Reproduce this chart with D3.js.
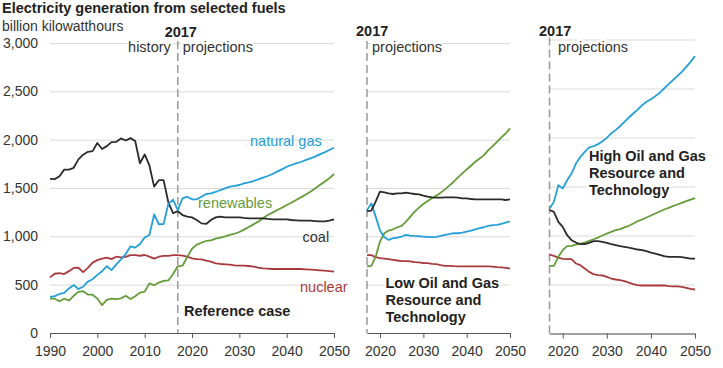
<!DOCTYPE html>
<html><head><meta charset="utf-8">
<script src="https://cdn.jsdelivr.net/npm/d3@7/dist/d3.min.js"></script>
<style>
body{margin:0;background:#fff}
svg text{font-family:Arial,"Liberation Sans",sans-serif}
</style>
</head><body>
<svg id="chart" width="723" height="368"></svg>
<script>
// ---------- DATA ----------
const histYears = d3.range(1990, 2018);   // 1990..2017
const projYears = d3.range(2017, 2051);   // 2017..2050

const coalHist = [1594,1592,1621,1690,1691,1709,1796,1845,1874,1881,1966,1904,1933,1974,1978,2013,1991,2016,1986,1756,1847,1733,1514,1581,1582,1352,1239,1260];
const gasHist  = [373,382,404,415,461,496,455,479,532,556,601,639,691,650,710,761,816,897,883,921,988,1014,1226,1125,1127,1335,1380,1272];
const nucHist  = [577,613,619,610,640,673,675,629,673,728,754,769,780,764,789,782,787,806,806,799,807,790,769,789,797,797,806,805];
const renHist  = [357,355,329,355,336,385,425,433,398,396,356,288,343,355,351,358,385,352,380,418,427,513,494,522,540,544,610,690];

// Reference case projections 2017..2050
const gasRef  = [1272,1393,1410,1383,1383,1410,1438,1445,1459,1479,1496,1514,1521,1531,1548,1558,1572,1590,1607,1624,1645,1669,1693,1720,1738,1755,1769,1789,1807,1824,1848,1869,1893,1917];
const coalRef = [1260,1220,1203,1196,1169,1134,1128,1169,1196,1203,1196,1196,1196,1196,1190,1186,1186,1186,1186,1180,1176,1176,1176,1176,1169,1165,1162,1162,1162,1158,1155,1155,1162,1176];
const renRef  = [690,696,786,872,914,934,952,958,976,986,1000,1014,1027,1045,1069,1096,1124,1152,1186,1220,1245,1272,1296,1324,1348,1376,1403,1431,1462,1496,1531,1565,1600,1645];
const nucRef  = [805,800,790,772,765,762,748,738,721,714,710,707,700,696,696,693,686,676,669,665,662,662,662,662,662,662,662,659,655,652,648,645,641,634];

// Low Oil and Gas Resource and Technology 2017..2050
const coalLow = [1260,1266,1359,1462,1455,1445,1438,1445,1445,1452,1445,1438,1434,1421,1410,1404,1400,1400,1404,1404,1404,1400,1393,1393,1386,1383,1383,1383,1383,1383,1383,1383,1376,1383];
const gasLow  = [1272,1341,1204,1060,991,963,980,987,998,1015,1008,1004,1001,998,994,991,994,1004,1015,1022,1032,1032,1039,1049,1060,1073,1084,1094,1108,1115,1118,1128,1142,1156];
const renLow  = [690,695,791,946,1032,1060,1073,1094,1108,1152,1204,1256,1297,1335,1366,1393,1421,1452,1486,1524,1565,1610,1651,1692,1730,1772,1806,1840,1892,1933,1978,2023,2064,2116];
const nucLow  = [805,805,784,774,770,764,757,750,743,743,740,733,730,722,722,716,712,702,695,695,692,690,690,690,690,690,690,690,690,686,681,678,674,667];

// High Oil and Gas Resource and Technology 2017..2050
const gasHigh  = [1272,1343,1513,1479,1564,1632,1734,1802,1853,1898,1911,1932,1962,1996,2041,2075,2115,2160,2204,2245,2285,2330,2364,2391,2422,2456,2500,2544,2585,2626,2670,2721,2772,2830];
const coalHigh = [1260,1241,1139,1088,1003,952,928,911,911,925,942,942,935,925,911,901,891,884,877,867,857,850,840,826,816,803,789,782,782,782,779,772,765,765];
const renHigh  = [690,690,782,850,891,894,908,918,928,945,962,979,1000,1020,1037,1054,1065,1082,1099,1122,1146,1163,1184,1204,1224,1245,1265,1282,1299,1316,1333,1350,1367,1381];
const nucHigh  = [805,792,775,762,758,758,714,697,663,629,605,595,592,578,561,551,544,534,520,503,493,490,490,490,490,490,490,483,480,480,476,466,456,449];

const yTicks = [0,500,1000,1500,2000,2500,3000];
const xTicksLeft = [1990,2000,2010,2020,2030,2040,2050];
const xTicksRight = [2020,2030,2040,2050];

const colors = {gas:"#24a0d8", coal:"#2b2b2b", ren:"#659c3a", nuc:"#a83a3e"};

// ---------- DRAW ----------
const svg = d3.select("#chart");
const font = 'Arial,"Liberation Sans",sans-serif';

svg.append("text").attr("x",2).attr("y",13).attr("font-weight","bold").attr("font-size","14.5px")
  .attr("fill","#222").text("Electricity generation from selected fuels");
svg.append("text").attr("x",2).attr("y",31).attr("font-size","14px").attr("fill","#333").text("billion kilowatthours");

const panels = [
  {x0:50, x1:334, y0:333, y1:43, domain:[1990,2050], ticks:xTicksLeft, labels:true,
   series:[
     {k:"nuc", years:histYears.concat(projYears.slice(1)), vals:nucHist.concat(nucRef.slice(1))},
     {k:"ren", years:histYears.concat(projYears.slice(1)), vals:renHist.concat(renRef.slice(1))},
     {k:"coal",years:histYears.concat(projYears.slice(1)), vals:coalHist.concat(coalRef.slice(1))},
     {k:"gas", years:histYears.concat(projYears.slice(1)), vals:gasHist.concat(gasRef.slice(1))}
   ]},
  {x0:367, x1:510, y0:333, y1:43, domain:[2017,2050], ticks:xTicksRight, labels:false,
   series:[
     {k:"nuc", years:projYears, vals:nucLow},
     {k:"ren", years:projYears, vals:renLow},
     {k:"gas", years:projYears, vals:gasLow},
     {k:"coal",years:projYears, vals:coalLow}
   ]},
  {x0:549.5, x1:695, y0:333.5, y1:39.5, domain:[2017,2050], ticks:xTicksRight, labels:false,
   series:[
     {k:"nuc", years:projYears, vals:nucHigh},
     {k:"ren", years:projYears, vals:renHigh},
     {k:"coal",years:projYears, vals:coalHigh},
     {k:"gas", years:projYears, vals:gasHigh}
   ]}
];

panels.forEach(p => {
  const x = d3.scaleLinear().domain(p.domain).range([p.x0, p.x1]);
  const y = d3.scaleLinear().domain([0,3000]).range([p.y0, p.y1]);
  p.x = x; p.y = y;

  const ga = svg.append("g").attr("transform",`translate(${p.x0},0)`)
    .call(d3.axisLeft(y).tickValues(yTicks).tickSize(-(p.x1-p.x0)).tickPadding(12)
      .tickFormat(p.labels ? d3.format(",") : () => ""));
  ga.select(".domain").remove();
  ga.selectAll(".tick line").attr("stroke","#d9d9d9").attr("stroke-width",1);
  ga.selectAll(".tick text").attr("font-size","14px").attr("fill","#333").attr("font-family",font);

  const xa = svg.append("g").attr("transform",`translate(0,${p.y0})`)
    .call(d3.axisBottom(x).tickValues(p.ticks).tickSize(5).tickSizeOuter(0).tickPadding(8).tickFormat(d3.format("d")));
  xa.select(".domain").attr("stroke","#555");
  xa.selectAll(".tick line").attr("stroke","#555");
  xa.selectAll(".tick text").attr("font-size","14px").attr("fill","#333").attr("font-family",font);

  svg.append("line").attr("x1",x(2017)).attr("x2",x(2017)).attr("y1",p.y1-2).attr("y2",p.y0)
    .attr("stroke","#999").attr("stroke-width",1.5).attr("stroke-dasharray","8,4");

  const line = d3.line().x(d=>x(d[0])).y(d=>y(d[1]));
  p.series.forEach(s => {
    svg.append("path").datum(s.years.map((yr,i)=>[yr,s.vals[i]]))
      .attr("d",line).attr("fill","none").attr("stroke",colors[s.k]).attr("stroke-width",1.8)
      .attr("stroke-linejoin","round");
  });
});

function txt(x,y,t,opt={}) {
  const e = svg.append("text").attr("x",x).attr("y",y).text(t)
    .attr("font-size",opt.size||"14.5px").attr("fill",opt.fill||"#333");
  if (opt.bold) e.attr("font-weight","bold");
  if (opt.anchor) e.attr("text-anchor",opt.anchor);
  if (opt.bg) e.attr("stroke","#fff").attr("stroke-width",4).attr("paint-order","stroke");
  return e;
}

const [pL,pM,pR] = panels;
txt(pL.x(2017)+3, 37, "2017", {bold:true, anchor:"middle", fill:"#222"});
txt(pL.x(2017)-7, 52, "history", {anchor:"end", bg:true});
txt(pL.x(2017)+5, 52, "projections", {bg:true});
txt(356, 36, "2017", {bold:true, fill:"#222"});
txt(pM.x(2017)+5, 52, "projections", {bg:true});
txt(539, 36, "2017", {bold:true, fill:"#222"});
txt(pR.x(2017)+8.5, 52, "projections", {bg:true});

txt(250, 146, "natural gas", {fill:colors.gas});
txt(198, 208, "renewables", {fill:colors.ren});
txt(302.5, 241.5, "coal", {fill:"#333"});
txt(300, 292, "nuclear", {fill:colors.nuc});
txt(184, 316, "Reference case", {bold:true, size:"14.5px", fill:"#222"});

["Low Oil and Gas","Resource and","Technology"].forEach((t,i)=>
  txt(385.5, 288 + i*17, t, {bold:true, size:"14.5px", fill:"#222", bg:true}));
["High Oil and Gas","Resource and","Technology"].forEach((t,i)=>
  txt(589, 160.5 + i*17, t, {bold:true, size:"14.5px", fill:"#222", bg:true}));
</script>
</body></html>
